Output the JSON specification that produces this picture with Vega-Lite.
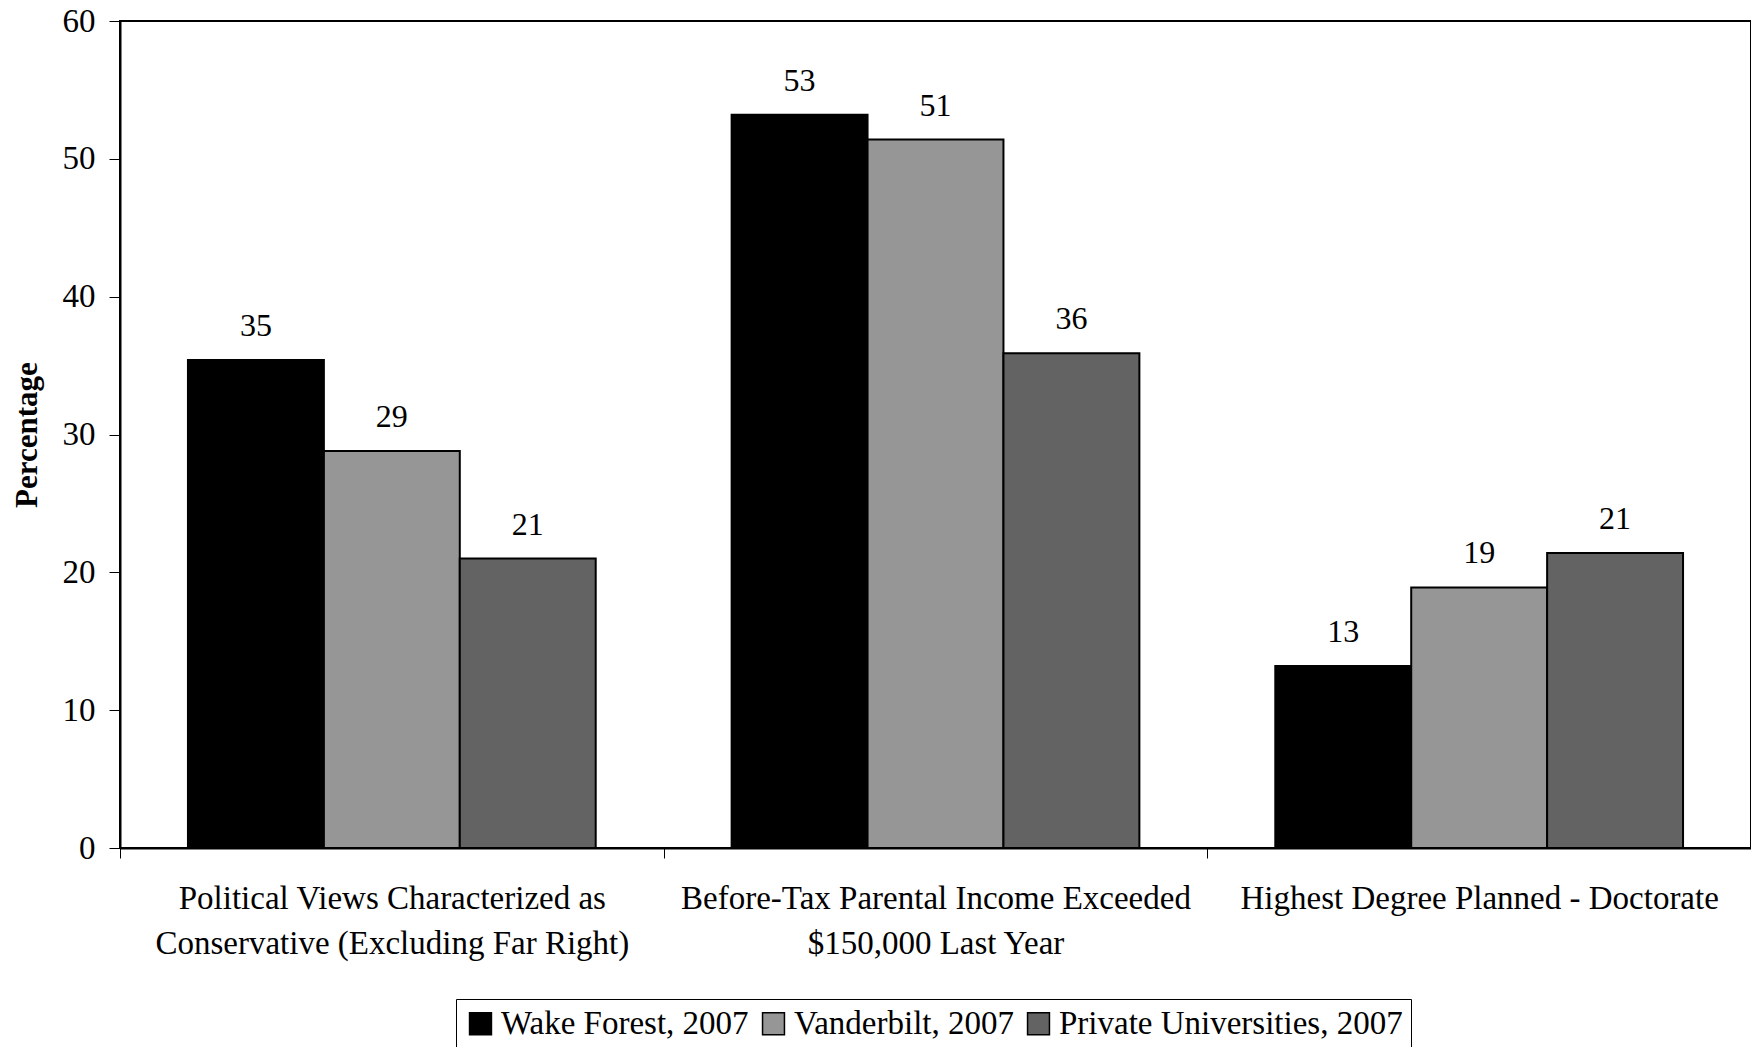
{
  "$schema": "https://vega.github.io/schema/vega-lite/v6.json",
  "autosize": {"type": "none"},
  "padding": {"left": 120, "top": 21, "right": 0, "bottom": 199},
  "width": 1631,
  "height": 827,
  "background": "white",
  "config": {
    "font": "Liberation Serif",
    "view": {"stroke": "black", "strokeWidth": 2},
    "axis": {"grid": false, "labelColor": "black", "titleColor": "black", "domainColor": "black", "tickColor": "black"}
  },
  "data": {
    "values": [
      {"category": "Political Views Characterized as|Conservative (Excluding Far Right)", "series": "Wake Forest, 2007", "value": 35.4},
      {"category": "Political Views Characterized as|Conservative (Excluding Far Right)", "series": "Vanderbilt, 2007", "value": 28.8},
      {"category": "Political Views Characterized as|Conservative (Excluding Far Right)", "series": "Private Universities, 2007", "value": 21.0},
      {"category": "Before-Tax Parental Income Exceeded|$150,000 Last Year", "series": "Wake Forest, 2007", "value": 53.2},
      {"category": "Before-Tax Parental Income Exceeded|$150,000 Last Year", "series": "Vanderbilt, 2007", "value": 51.4},
      {"category": "Before-Tax Parental Income Exceeded|$150,000 Last Year", "series": "Private Universities, 2007", "value": 35.9},
      {"category": "Highest Degree Planned - Doctorate", "series": "Wake Forest, 2007", "value": 13.2},
      {"category": "Highest Degree Planned - Doctorate", "series": "Vanderbilt, 2007", "value": 18.9},
      {"category": "Highest Degree Planned - Doctorate", "series": "Private Universities, 2007", "value": 21.4}
    ]
  },
  "encoding": {
    "x": {
      "field": "category",
      "type": "nominal",
      "sort": null,
      "scale": {"paddingInner": 0, "paddingOuter": 0},
      "axis": {
        "title": null,
        "labelAngle": 0,
        "labelFontSize": 33,
        "labelFont": "Liberation Serif",
        "labelLineHeight": 45,
        "labelPadding": 24,
        "labelBaseline": "top",
        "tickBand": "extent",
        "tickSize": 10,
        "tickWidth": 1,
        "domainWidth": 2,
        "labelLimit": 800,
        "labelExpr": "split(datum.label, '|')"
      }
    },
    "xOffset": {
      "field": "series",
      "type": "nominal",
      "sort": null,
      "scale": {"paddingInner": 0, "paddingOuter": 0.5}
    },
    "y": {
      "field": "value",
      "type": "quantitative",
      "scale": {"domain": [0, 60], "nice": false},
      "axis": {
        "title": "Percentage",
        "titleFont": "Liberation Serif",
        "titleFontSize": 31,
        "titleFontWeight": "bold",
        "titlePadding": 19,
        "values": [0, 10, 20, 30, 40, 50, 60],
        "labelFontSize": 33,
        "labelPadding": 14,
        "tickSize": 11,
        "tickWidth": 1,
        "domainWidth": 2
      }
    }
  },
  "layer": [
    {
      "mark": {"type": "bar", "stroke": "black", "strokeWidth": 2},
      "encoding": {
        "color": {
          "field": "series",
          "type": "nominal",
          "sort": null,
          "scale": {"range": ["#000000", "#969696", "#636363"]},
          "legend": {
            "title": null,
            "orient": "none",
            "legendX": 336,
            "legendY": 978,
            "direction": "horizontal",
            "columns": 3,
            "strokeColor": "black",
            "padding": 8,
            "fillColor": "white",
            "symbolType": "square",
            "symbolSize": 480,
            "symbolStrokeColor": "black",
            "symbolStrokeWidth": 1.5,
            "symbolOpacity": 1,
            "labelFont": "Liberation Serif",
            "labelFontSize": 33,
            "labelColor": "black",
            "labelOffset": 4,
            "columnPadding": 8,
            "labelLimit": 600
          }
        }
      }
    },
    {
      "mark": {"type": "text", "baseline": "alphabetic", "dy": -24, "fontSize": 32, "font": "Liberation Serif", "color": "black"},
      "encoding": {
        "text": {"field": "value", "type": "quantitative", "format": ".0f"}
      }
    }
  ]
}
